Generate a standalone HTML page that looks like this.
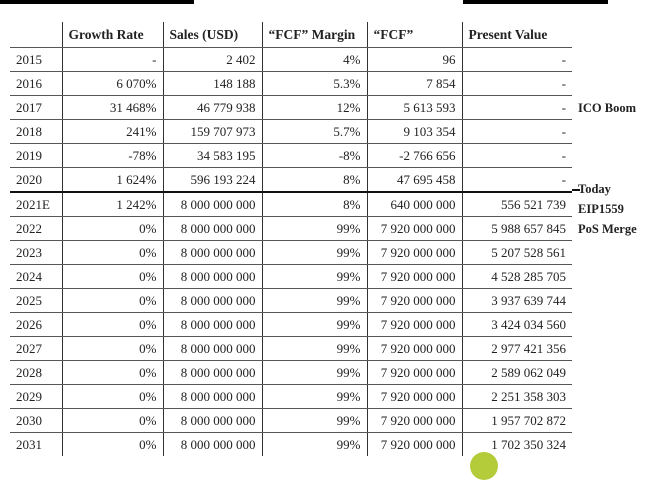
<!DOCTYPE html>
<html><head><meta charset="utf-8"><style>
body{margin:0;width:656px;height:467px;background:#fff;position:relative;overflow:hidden;font-family:"Liberation Serif",serif;color:#222;}
table{position:absolute;left:10px;top:22px;border-collapse:collapse;font-size:13px;table-layout:fixed;}
td,th{height:23px;padding:0 6px;border-left:1px solid #333;border-bottom:1px solid #555;white-space:nowrap;overflow:hidden;}
th{height:25px;text-align:left;font-weight:bold;font-size:13.5px;}
td{text-align:right;}
td:first-child,th:first-child{border-left:none;text-align:left;}
tr:last-child td{border-bottom:none;}
tr.thick td{border-bottom:2px solid #111;}
.lab{position:absolute;left:578px;font-weight:bold;font-size:12.5px;}
</style></head><body>
<div style="position:absolute;left:0;top:0;width:194px;height:4px;background:#000"></div>
<div style="position:absolute;left:463px;top:0;width:145px;height:4px;background:#000"></div>
<table>
<colgroup><col style="width:52px"><col style="width:101px"><col style="width:99px"><col style="width:105px"><col style="width:95px"><col style="width:110px"></colgroup>
<tr><th></th><th>Growth Rate</th><th>Sales (USD)</th><th>“FCF” Margin</th><th>“FCF”</th><th>Present Value</th></tr>
<tr><td>2015</td><td>-</td><td>2 402</td><td>4%</td><td>96</td><td>-</td></tr>
<tr><td>2016</td><td>6 070%</td><td>148 188</td><td>5.3%</td><td>7 854</td><td>-</td></tr>
<tr><td>2017</td><td>31 468%</td><td>46 779 938</td><td>12%</td><td>5 613 593</td><td>-</td></tr>
<tr><td>2018</td><td>241%</td><td>159 707 973</td><td>5.7%</td><td>9 103 354</td><td>-</td></tr>
<tr><td>2019</td><td>-78%</td><td>34 583 195</td><td>-8%</td><td>-2 766 656</td><td>-</td></tr>
<tr class="thick"><td>2020</td><td>1 624%</td><td>596 193 224</td><td>8%</td><td>47 695 458</td><td>-</td></tr>
<tr><td>2021E</td><td>1 242%</td><td>8 000 000 000</td><td>8%</td><td>640 000 000</td><td>556 521 739</td></tr>
<tr><td>2022</td><td>0%</td><td>8 000 000 000</td><td>99%</td><td>7 920 000 000</td><td>5 988 657 845</td></tr>
<tr><td>2023</td><td>0%</td><td>8 000 000 000</td><td>99%</td><td>7 920 000 000</td><td>5 207 528 561</td></tr>
<tr><td>2024</td><td>0%</td><td>8 000 000 000</td><td>99%</td><td>7 920 000 000</td><td>4 528 285 705</td></tr>
<tr><td>2025</td><td>0%</td><td>8 000 000 000</td><td>99%</td><td>7 920 000 000</td><td>3 937 639 744</td></tr>
<tr><td>2026</td><td>0%</td><td>8 000 000 000</td><td>99%</td><td>7 920 000 000</td><td>3 424 034 560</td></tr>
<tr><td>2027</td><td>0%</td><td>8 000 000 000</td><td>99%</td><td>7 920 000 000</td><td>2 977 421 356</td></tr>
<tr><td>2028</td><td>0%</td><td>8 000 000 000</td><td>99%</td><td>7 920 000 000</td><td>2 589 062 049</td></tr>
<tr><td>2029</td><td>0%</td><td>8 000 000 000</td><td>99%</td><td>7 920 000 000</td><td>2 251 358 303</td></tr>
<tr><td>2030</td><td>0%</td><td>8 000 000 000</td><td>99%</td><td>7 920 000 000</td><td>1 957 702 872</td></tr>
<tr><td>2031</td><td>0%</td><td>8 000 000 000</td><td>99%</td><td>7 920 000 000</td><td>1 702 350 324</td></tr>
</table>
<div style="position:absolute;left:572px;top:189px;width:8px;height:2px;background:#111"></div>
<div class="lab" style="top:101px">ICO Boom</div>
<div class="lab" style="top:182px">Today</div>
<div class="lab" style="top:202px">EIP1559</div>
<div class="lab" style="top:222px">PoS Merge</div>
<div style="position:absolute;left:470px;top:452px;width:28px;height:28px;border-radius:50%;background:#b5cc3a"></div>
</body></html>
